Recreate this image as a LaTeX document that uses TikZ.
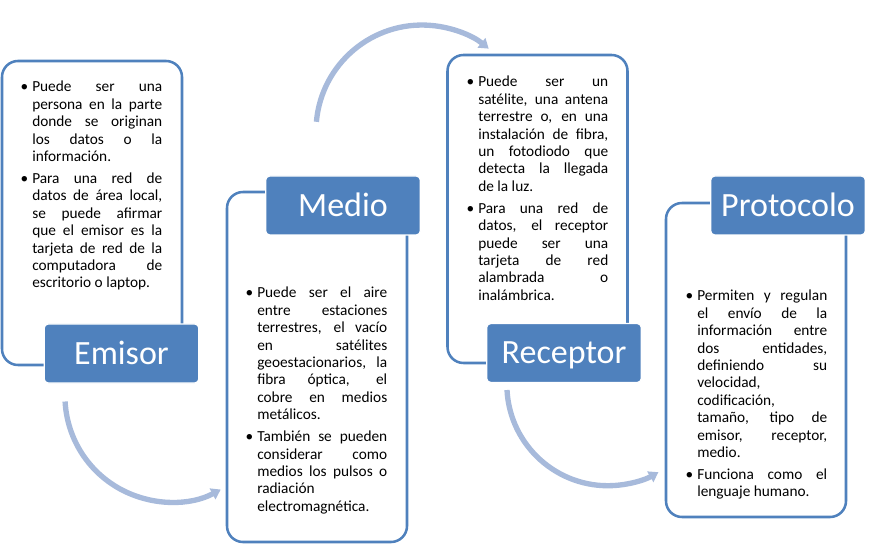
\documentclass[tikz,border=0pt]{standalone}
\usepackage{fontspec}
\setmainfont{Carlito}
\usetikzlibrary{arrows.meta}
\definecolor{accent}{HTML}{4F81BD}
\definecolor{flowblue}{HTML}{A7BADB}
\newcommand{\itm}{\noindent\llap{\textbullet\hspace{3pt}}}
\newcommand{\nextitm}{\par\vspace{3.4pt}\itm}

\begin{document}
\begin{tikzpicture}[x=0.75pt,y=-0.75pt,
  frame/.style={draw=accent,line width=1.9pt,fill=white,rounded corners=12pt,
    minimum width=135pt,inner sep=0pt},
  tag/.style={draw=white,line width=1pt,fill=accent,rounded corners=3pt,text=white,
    minimum width=116pt,minimum height=44.25pt,inner sep=0pt,
    font=\fontsize{25.5}{30}\selectfont,text height=16.4pt,text depth=0pt},
  bullets/.style={anchor=base west,text width=97.5pt,align=justify,inner sep=0pt,
    font=\fontsize{11.5}{13.05}\selectfont},
  flow/.style={draw=flowblue,line width=4pt,-{Triangle[length=7pt,width=9pt]}}]
\useasboundingbox (0,0) rectangle (881,559);

% frames
\node[frame,minimum height=228pt] (emisorframe) at (92,213) {};
\node[frame,minimum height=262.5pt] (medioframe) at (317,367) {};
\node[frame,minimum height=231pt] (receptorframe) at (537.5,209) {};
\node[frame,minimum height=235.5pt] (protocoloframe) at (756,360) {};

% texts
\node[bullets] (emisortext) at (32,92) {\itm Puede ser una\linebreak persona en la parte\linebreak donde se originan\linebreak los datos o la\linebreak información.
\nextitm Para una red de\linebreak datos de área local,\linebreak se puede afirmar\linebreak que el emisor es la\linebreak tarjeta de red de la\linebreak computadora de\linebreak escritorio o laptop.};
\node[bullets] (mediotext) at (257,298) {\itm Puede ser el aire\linebreak entre estaciones\linebreak terrestres, el vacío\linebreak en satélites\linebreak geoestacionarios, la\linebreak fibra óptica, el\linebreak cobre en medios\linebreak metálicos.
\nextitm También se pueden\linebreak considerar como\linebreak medios los pulsos o\linebreak radiación\newline electromagnética.};
\node[bullets] (receptortext) at (478,87) {\itm Puede ser un\linebreak satélite, una antena\linebreak terrestre o, en una\linebreak instalación de fibra,\linebreak un fotodiodo que\linebreak detecta la llegada\linebreak de la luz.
\nextitm Para una red de\linebreak datos, el receptor\linebreak puede ser una\linebreak tarjeta de red\linebreak alambrada o\linebreak inalámbrica.};
\node[bullets] (protocolotext) at (697,301) {\itm Permiten y regulan\linebreak el envío de la\linebreak información entre\linebreak dos entidades,\linebreak definiendo su\linebreak velocidad,\newline codificación,\newline tamaño, tipo de\linebreak emisor, receptor,\linebreak medio.
\nextitm Funciona como el\linebreak lenguaje humano.};

% tags
\node[tag] (emisor) at (121.5,353.5) {Emisor};
\node[tag] (medio) at (343,205.5) {Medio};
\node[tag] (receptor) at (564,353) {Receptor};
\node[tag] (protocolo) at (788,205.5) {Protocolo};

% arrows
\coordinate (flowa) at (65.1,401.5);
\coordinate (flowb) at (316.4,121.8);
\coordinate (flowc) at (507,390);
\draw[flow] (flowa) arc[start angle=177,end angle=62,radius=106];
\draw[flow] (flowb) arc[start angle=185,end angle=309,radius=106];
\draw[flow] (flowc) arc[start angle=177,end angle=60,radius=101];
\end{tikzpicture}
\end{document}
